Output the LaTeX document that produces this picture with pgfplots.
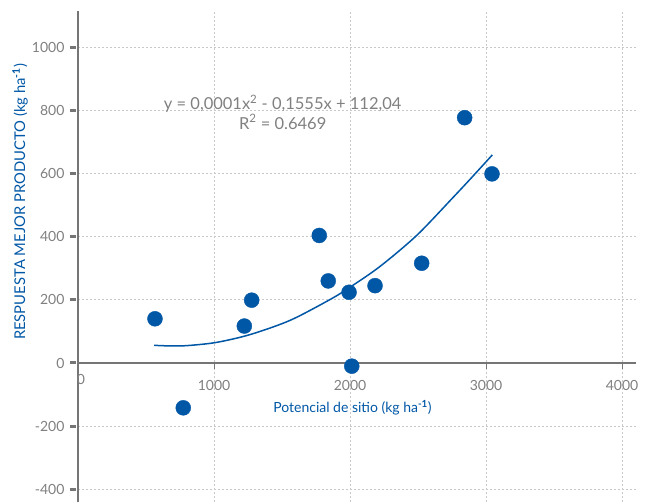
\documentclass[border=0pt]{standalone}
\usepackage{fontspec}
\setmainfont{Lato}
\usepackage{pgfplots}
\pgfplotsset{compat=1.18}
\definecolor{ptblue}{HTML}{0057A6}
\definecolor{axgray}{HTML}{757575}
\definecolor{gridgray}{HTML}{C8C8C8}
\definecolor{txtgray}{HTML}{808080}
\begin{document}
\begin{tikzpicture}[x=1pt,y=1pt]
\begin{axis}[
  scale only axis,
  width=557.6pt, height=490.9pt,
  xmin=0, xmax=4100, ymin=-440, ymax=1115,
  axis lines=middle,
  axis line style={axgray, line width=1.6pt, -},
  hide obscured x ticks=false,
  hide obscured y ticks=false,
  xtick={1000,2000,3000,4000},
  ytick={-400,-200,0,200,400,600,800,1000},
  extra x ticks={0},
  extra x tick style={grid=none, major tick length=0pt, xticklabel style={xshift=3pt}},
  grid=major,
  major grid style={gridgray, dash pattern=on 2pt off 2pt, line width=0.8pt},
  tick align=outside,
  xtick style={axgray, line width=0.8pt},
  ytick style={axgray, line width=3pt, xshift=-2pt},
  major tick length=6pt,
  tick label style={font=\fontsize{14}{16}\selectfont, text=txtgray},
  xticklabel style={anchor=north, yshift=-8pt},
  yticklabel style={anchor=east, xshift=-4pt},
  /pgf/number format/assume math mode=true,
  /pgf/number format/1000 sep={},
  clip=false,
]
\addplot[ptblue, line width=1.5pt, smooth, tension=0.5] coordinates {
  (559,56) (680,54) (800,55) (1015,65) (1265,90) (1559,135) (1853,201) (2000,240)
  (2221,306) (2490,404) (2757,524) (2900,590) (3046,659)
};
\addplot[only marks, mark=*, mark size=7.5pt, mark options={fill=ptblue, draw=ptblue}] coordinates {
  (566,140) (774,-142) (1223,117) (1277,199) (1774,404) (1840,260)
  (1993,224) (2013,-10) (2184,245) (2527,316) (2843,777) (3044,599)
};
\node[font=\fontsize{14}{16}\selectfont, text=ptblue] at (axis cs:2018,-142) {Potencial de sitio (kg ha\textsuperscript{\textbf{-1}})};
\node[font=\fontsize{16.5}{19.5}\selectfont, text=txtgray, align=center] at (axis cs:1505,795)
  {y = 0,0001x\textsuperscript{2} - 0,1555x + 112,04\\R\textsuperscript{2} = 0.6469};
\node[font=\fontsize{14.8}{17}\selectfont, text=ptblue, rotate=90] at (axis cs:-425,510) {RESPUESTA MEJOR PRODUCTO (kg ha\textsuperscript{\textbf{-1}})};
\end{axis}
\pgfresetboundingbox
\path ([shift={(-78pt,0pt)}]current axis.south west) rectangle ([shift={(9.4pt,11pt)}]current axis.north east);
\end{tikzpicture}
\end{document}
